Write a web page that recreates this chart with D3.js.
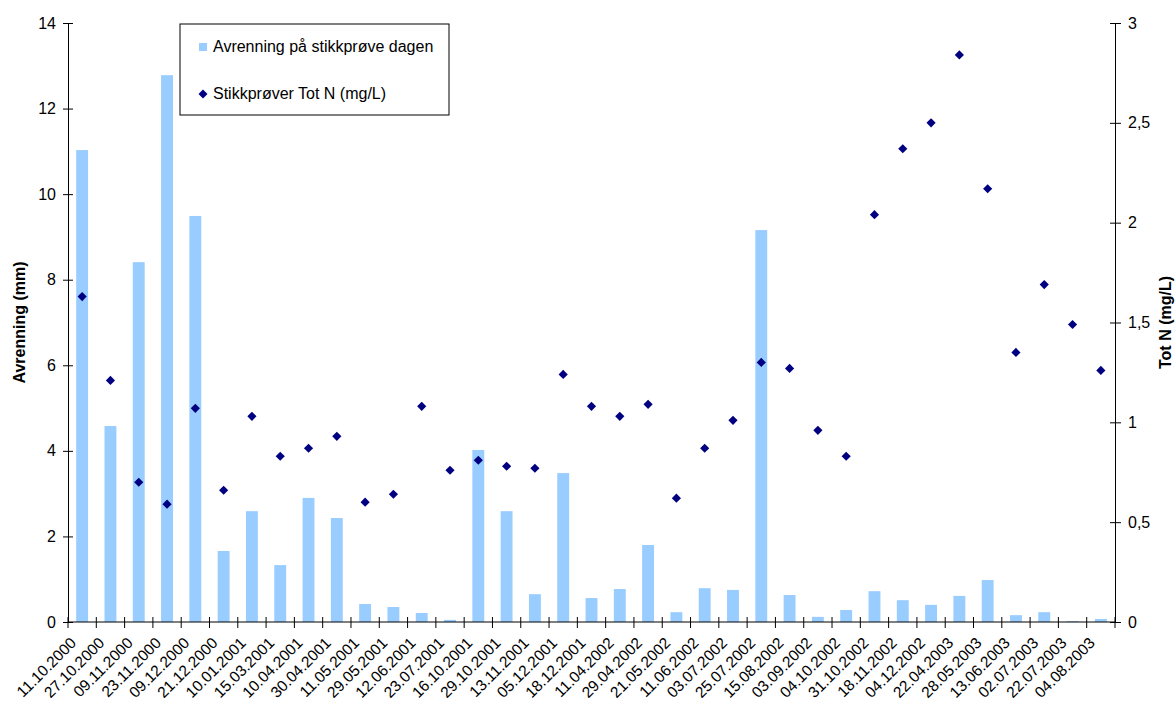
<!DOCTYPE html>
<html>
<head>
<meta charset="utf-8">
<script src="https://cdn.jsdelivr.net/npm/d3@7"></script>
<style>
  body { margin: 0; background: #fff; }
  text { font-family: "Liberation Sans", Arial, sans-serif; fill: #000; }
</style>
</head>
<body>
<div class="svg-container"></div>
<script>
const outerWidth = 1176;
const outerHeight = 707;
const margin = { left: 68, top: 23, right: 61, bottom: 85 };
const innerWidth = outerWidth - margin.left - margin.right;
const innerHeight = outerHeight - margin.top - margin.bottom;

const dates = ['11.10.2000', '27.10.2000', '09.11.2000', '23.11.2000', '09.12.2000', '21.12.2000',
  '10.01.2001', '15.03.2001', '10.04.2001', '30.04.2001', '11.05.2001', '29.05.2001', '12.06.2001',
  '23.07.2001', '16.10.2001', '29.10.2001', '13.11.2001', '05.12.2001', '18.12.2001', '11.04.2002',
  '29.04.2002', '21.05.2002', '11.06.2002', '03.07.2002', '25.07.2002', '15.08.2002', '03.09.2002',
  '04.10.2002', '31.10.2002', '18.11.2002', '04.12.2002', '22.04.2003', '28.05.2003', '13.06.2003',
  '02.07.2003', '22.07.2003', '04.08.2003'];

// Avrenning (mm), left axis
const runoff = [11.03, 4.58, 8.41, 12.78, 9.49, 1.66, 2.59, 1.33, 2.90, 2.43, 0.42, 0.35, 0.21,
  0.05, 4.02, 2.59, 0.65, 3.48, 0.56, 0.77, 1.80, 0.23, 0.79, 0.75, 9.16, 0.63, 0.12, 0.28,
  0.72, 0.51, 0.40, 0.61, 0.98, 0.16, 0.23, 0.02, 0.07];

// Tot N (mg/L), right axis
const totN = [1.63, 1.21, 0.70, 0.59, 1.07, 0.66, 1.03, 0.83, 0.87, 0.93, 0.60, 0.64, 1.08,
  0.76, 0.81, 0.78, 0.77, 1.24, 1.08, 1.03, 1.09, 0.62, 0.87, 1.01, 1.30, 1.27, 0.96, 0.83,
  2.04, 2.37, 2.50, 2.84, 2.17, 1.35, 1.69, 1.49, 1.26];

const leftTicks = [0, 2, 4, 6, 8, 10, 12, 14];
const rightTicks = [0, 0.5, 1, 1.5, 2, 2.5, 3];

const barColor = '#99ccff';
const dotColor = '#000080';
const font = '"Liberation Sans", Arial, sans-serif';

const svg = d3.select('.svg-container')
  .append('svg')
  .attr('width', outerWidth)
  .attr('height', outerHeight);

const g = svg.append('g')
  .attr('transform', `translate(${margin.left}, ${margin.top})`);

const xScale = d3.scaleBand()
  .domain(dates)
  .range([0, innerWidth])
  .paddingInner(0.58)
  .paddingOuter(0.29);

const xOuter = d3.scaleBand().domain(dates).range([0, innerWidth]);
const xMid = d => xOuter(d) + xOuter.bandwidth() / 2;

const yLeft = d3.scaleLinear().domain([0, 14]).range([innerHeight, 0]);
const yRight = d3.scaleLinear().domain([0, 3]).range([innerHeight, 0]);

// bars
g.selectAll('rect.bar')
  .data(dates)
  .enter()
  .append('rect')
  .attr('class', 'bar')
  .attr('x', d => xScale(d))
  .attr('width', xScale.bandwidth())
  .attr('y', (d, i) => yLeft(runoff[i]))
  .attr('height', (d, i) => innerHeight - yLeft(runoff[i]))
  .attr('fill', barColor);

// diamonds
const diamond = d3.symbol(d3.symbolSquare, 42);
g.selectAll('path.dot')
  .data(dates)
  .enter()
  .append('path')
  .attr('class', 'dot')
  .attr('d', diamond)
  .attr('transform', (d, i) => `translate(${xMid(d)}, ${yRight(totN[i])}) rotate(45)`)
  .attr('fill', dotColor);

// x axis: ticks at category boundaries, crossing the line
const xAxis = g.append('g').attr('transform', `translate(0, ${innerHeight})`);
xAxis.append('line')
  .attr('x1', 0).attr('x2', innerWidth)
  .attr('stroke', '#000');
const bounds = dates.map(d => xOuter(d)).concat([innerWidth]);
xAxis.selectAll('line.tick')
  .data(bounds)
  .enter()
  .append('line')
  .attr('class', 'tick')
  .attr('x1', d => d).attr('x2', d => d)
  .attr('y1', -5).attr('y2', 6)
  .attr('stroke', '#000');
xAxis.selectAll('text')
  .data(dates)
  .enter()
  .append('text')
  .text(d => d)
  .attr('text-anchor', 'end')
  .attr('transform', d => `translate(${xMid(d) - 5}, 22) rotate(-45)`)
  .style('font-size', '15.5px');

// left axis
const leftAxis = d3.axisLeft(yLeft).tickValues(leftTicks).tickSize(5).tickPadding(6).tickSizeOuter(0);
const gl = g.append('g').call(leftAxis);
gl.selectAll('.tick line').attr('x2', -5).attr('x1', 5);
gl.selectAll('text').style('font-size', '16px').style('font-family', font).attr('x', -12);
gl.select('.domain').attr('stroke', '#000');

// right axis
const fmt = d => String(d).replace('.', ',');
const rightAxis = d3.axisRight(yRight).tickValues(rightTicks).tickFormat(fmt).tickSize(6).tickPadding(6).tickSizeOuter(0);
const gr = g.append('g').attr('transform', `translate(${innerWidth}, 0)`).call(rightAxis);
gr.selectAll('.tick line').attr('x1', -5).attr('x2', 6);
gr.selectAll('text').style('font-size', '16px').style('font-family', font).attr('x', 13);
gr.select('.domain').attr('stroke', '#000');

// axis titles
svg.append('text')
  .text('Avrenning (mm)')
  .attr('transform', `translate(25, ${margin.top + innerHeight / 2}) rotate(-90)`)
  .attr('text-anchor', 'middle')
  .style('font-size', '16px')
  .style('font-weight', 'bold');

svg.append('text')
  .text('Tot N (mg/L)')
  .attr('transform', `translate(1171, ${margin.top + innerHeight / 2}) rotate(-90)`)
  .attr('text-anchor', 'middle')
  .style('font-size', '16px')
  .style('font-weight', 'bold');

// legend
const legend = svg.append('g').attr('transform', 'translate(180, 24)');
legend.append('rect')
  .attr('width', 269).attr('height', 91)
  .attr('fill', '#fff').attr('stroke', '#000');
legend.append('rect')
  .attr('x', 19).attr('y', 19).attr('width', 8).attr('height', 8)
  .attr('fill', barColor);
legend.append('text')
  .text('Avrenning på stikkprøve dagen')
  .attr('x', 33).attr('y', 28)
  .style('font-size', '16px');
legend.append('path')
  .attr('d', d3.symbol(d3.symbolSquare, 40))
  .attr('transform', 'translate(23, 70) rotate(45)')
  .attr('fill', dotColor);
legend.append('text')
  .text('Stikkprøver Tot N (mg/L)')
  .attr('x', 33).attr('y', 75)
  .style('font-size', '16px');
</script>
</body>
</html>
